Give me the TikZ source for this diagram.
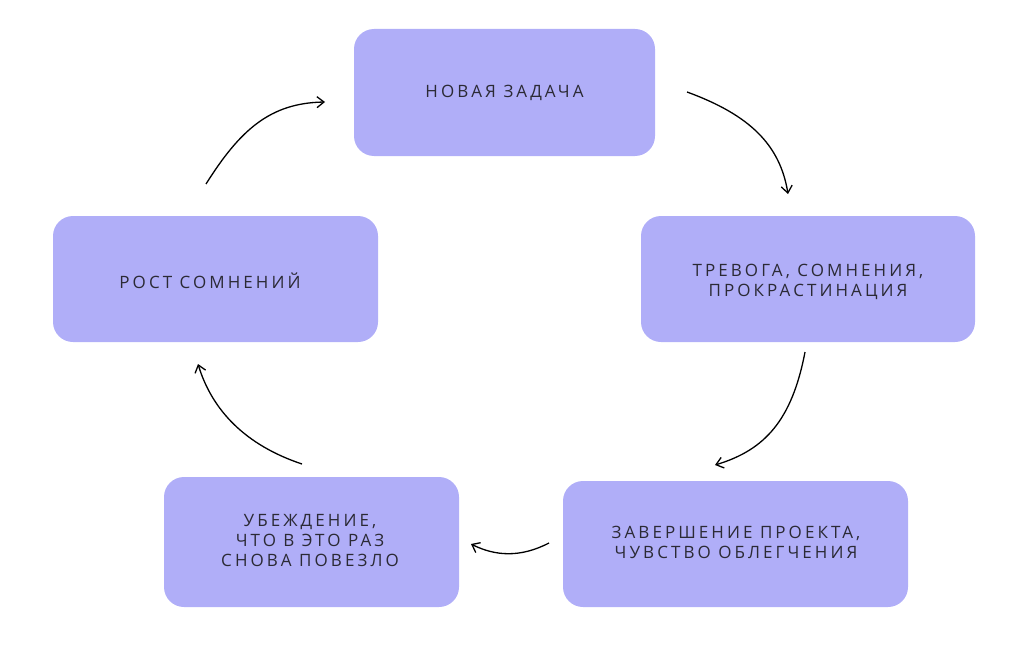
\documentclass[tikz,border=0pt]{standalone}
\usepackage{fontspec}
\setmainfont[LetterSpace=18]{Open Sans}
\usetikzlibrary{arrows.meta}
\definecolor{boxc}{HTML}{B0AEF8}
\definecolor{txt}{HTML}{2B2A35}
\begin{document}
\begin{tikzpicture}[x=1pt,y=-1pt,
  box/.style={fill=boxc,rounded corners=20pt,draw=none},
  lbl/.style={text=txt,font=\fontsize{17}{20}\selectfont,align=center},
  arr/.style={draw=black,line width=1.3pt,-{Straight Barb[length=7pt,width=11pt]}}]
\useasboundingbox (0,0) rectangle (1024,650);
\fill[box] (354,29) rectangle (655,156);
\fill[box] (641,216) rectangle (975,342);
\fill[box] (563,481) rectangle (908,607);
\fill[box] (164,477) rectangle (459,607);
\fill[box] (53,216) rectangle (378,342);
\node[lbl] (n1) at (504.5,93) {НОВАЯ ЗАДАЧА};
\node[lbl] (n2) at (808,282) {ТРЕВОГА, СОМНЕНИЯ,\\ПРОКРАСТИНАЦИЯ};
\node[lbl] (n3) at (736,542) {ЗАВЕРШЕНИЕ ПРОЕКТА,\\ЧУВСТВО ОБЛЕГЧЕНИЯ};
\node[lbl] (n4) at (310,541) {УБЕЖДЕНИЕ,\\ЧТО В ЭТО РАЗ\\СНОВА ПОВЕЗЛО};
\node[lbl] (n5) at (210,281) {РОСТ СОМНЕНИЙ};
\coordinate (a1) at (687,92); \coordinate (a2) at (788,194);
\coordinate (b1) at (805,352); \coordinate (b2) at (715,465);
\coordinate (c1) at (549,543); \coordinate (c2) at (471,544);
\coordinate (d1) at (302,464); \coordinate (d2) at (198,364);
\coordinate (e1) at (206,184); \coordinate (e2) at (325,102);
\draw[arr] (a1) .. controls (750,115) and (780,145) .. (a2);
\draw[arr] (b1) .. controls (792,420) and (765,450) .. (b2);
\draw[arr] (c1) .. controls (520,558) and (495,556) .. (c2);
\draw[arr] (d1) .. controls (245,445) and (212,410) .. (d2);
\draw[arr] (e1) .. controls (240,130) and (270,103) .. (e2);
\end{tikzpicture}
\end{document}
